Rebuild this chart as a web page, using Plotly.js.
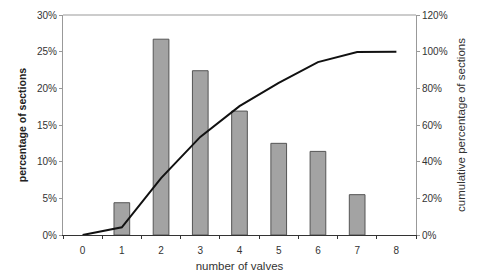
<!DOCTYPE html>
<html>
<head>
<meta charset="utf-8">
<script src="https://cdn.plot.ly/plotly-3.0.1.min.js"></script>
<style>html,body{margin:0;padding:0;background:#fff;}#chart{width:481px;height:280px;}</style>
</head>
<body>
<div id="chart"></div>
<script>
const valves = ['0','1','2','3','4','5','6','7','8'];
const pctSections = [0, 0.044, 0.267, 0.224, 0.169, 0.125, 0.114, 0.055, 0];
const cumPctSections = [0, 0.042, 0.31, 0.535, 0.703, 0.83, 0.943, 0.998, 1.0];

const fam = 'Liberation Sans, Arial, sans-serif';

const data = [
  {
    type: 'bar', x: valves, y: pctSections, yaxis: 'y',
    width: 0.4,
    marker: {color: '#a3a3a3', line: {color: '#555', width: pctSections.map(v => v > 0 ? 1 : 0)}},
    hoverinfo: 'none'
  },
  {
    type: 'scatter', mode: 'lines', x: valves, y: cumPctSections, yaxis: 'y2',
    line: {color: '#111', width: 2},
    hoverinfo: 'none'
  }
];

const layout = {
  width: 481, height: 280,
  margin: {l: 63, r: 65, t: 15, b: 45},
  paper_bgcolor: '#fff', plot_bgcolor: '#fff',
  showlegend: false,
  font: {family: fam, size: 10, color: '#333'},
  xaxis: {
    type: 'category', range: [-0.5, 8.5],
    showline: true, linecolor: '#333', linewidth: 1,
    ticks: 'outside', ticklen: 3, tickcolor: '#333', tickson: 'boundaries',
    ticklabelstandoff: 6,
    showgrid: false, zeroline: false,
    tickfont: {family: fam, size: 10, color: '#333'},
    title: {text: 'number of valves', font: {family: fam, size: 11.5, color: '#333'}, standoff: 6}
  },
  yaxis: {
    range: [0, 0.30], dtick: 0.05, tickformat: '.0%',
    showline: true, linecolor: '#999', linewidth: 1,
    ticks: 'outside', ticklen: 3, tickcolor: '#999',
    showgrid: false, zeroline: false,
    tickfont: {family: fam, size: 10, color: '#333'},
    title: {text: 'percentage of sections', font: {family: fam, size: 10.5, color: '#222', weight: 'bold'}, standoff: 8}
  },
  yaxis2: {
    range: [0, 1.2], dtick: 0.2, tickformat: '.0%',
    overlaying: 'y', side: 'right',
    showline: true, linecolor: '#999', linewidth: 1,
    ticks: 'outside', ticklen: 3, tickcolor: '#999',
    showgrid: false, zeroline: false,
    tickfont: {family: fam, size: 10, color: '#333'},
    title: {text: 'cumulative percentage of sections', font: {family: fam, size: 11.5, color: '#333'}, standoff: 10}
  },
  shapes: [
    {type: 'line', xref: 'paper', yref: 'paper', x0: 0, x1: 1, y0: 1, y1: 1, line: {color: '#999', width: 1}}
  ]
};

Plotly.newPlot('chart', data, layout, {displayModeBar: false, staticPlot: true});
</script>
</body>
</html>
